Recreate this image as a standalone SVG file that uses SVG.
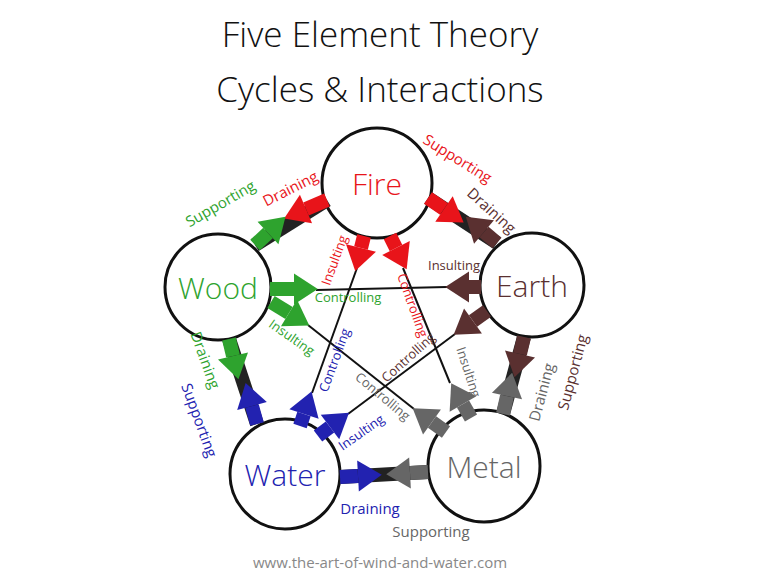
<svg xmlns="http://www.w3.org/2000/svg" width="768" height="576" viewBox="0 0 768 576">
<style>
text{font-family:"Open Sans","Liberation Sans",sans-serif;}
.t{font-size:35px;fill:#111;text-anchor:middle;font-weight:300}
.n{font-size:30px;text-anchor:middle;dominant-baseline:central;font-weight:300}
.l{font-size:15px;text-anchor:middle;dominant-baseline:central}
.s{font-size:13px}
.c{fill:#fff;stroke:#111;stroke-width:3}
.thin{stroke:#111;stroke-width:2;fill:none}
.bk{stroke:#222;stroke-width:14}
</style>
<defs>
<marker id="hr" markerWidth="1.7" markerHeight="2.2" refX="0" refY="1.1" orient="auto" markerUnits="strokeWidth" overflow="visible"><path d="M0,0L1.7,1.1L0,2.2z" fill="#e8141a"/></marker>
<marker id="hg" markerWidth="1.7" markerHeight="2.2" refX="0" refY="1.1" orient="auto" markerUnits="strokeWidth" overflow="visible"><path d="M0,0L1.7,1.1L0,2.2z" fill="#2ea32e"/></marker>
<marker id="hb" markerWidth="1.7" markerHeight="2.2" refX="0" refY="1.1" orient="auto" markerUnits="strokeWidth" overflow="visible"><path d="M0,0L1.7,1.1L0,2.2z" fill="#5a3030"/></marker>
<marker id="hm" markerWidth="1.7" markerHeight="2.2" refX="0" refY="1.1" orient="auto" markerUnits="strokeWidth" overflow="visible"><path d="M0,0L1.7,1.1L0,2.2z" fill="#666"/></marker>
<marker id="hw" markerWidth="1.7" markerHeight="2.2" refX="0" refY="1.1" orient="auto" markerUnits="strokeWidth" overflow="visible"><path d="M0,0L1.7,1.1L0,2.2z" fill="#2222b0"/></marker>
</defs>
<text class="t" x="380" y="47">Five Element Theory</text>
<text class="t" x="380" y="102">Cycles &amp; Interactions</text>
<g id="fire"><circle class="c" cx="377" cy="183" r="55"/><text class="n" x="377" y="183" fill="#e8141a">Fire</text></g>
<g id="wood"><circle class="c" cx="218" cy="287" r="53"/><text class="n" x="218" y="287" fill="#2ea32e">Wood</text></g>
<g id="earth"><circle class="c" cx="532" cy="285" r="52"/><text class="n" x="532" y="285" fill="#5a3030">Earth</text></g>
<g id="water"><circle class="c" cx="285" cy="474" r="55"/><text class="n" x="285" y="474" fill="#2222b0">Water</text></g>
<g id="metal"><circle class="c" cx="484" cy="466" r="56"/><text class="n" x="484" y="466" fill="#666">Metal</text></g>
<g id="connectors" stroke-width="14" fill="none">
<line class="thin" x1="357" y1="268" x2="312" y2="393"/>
<line class="thin" x1="403" y1="268" x2="450" y2="383"/>
<line class="thin" x1="316" y1="290" x2="447" y2="287"/>
<line class="thin" x1="308" y1="325" x2="414" y2="409"/>
<line class="thin" x1="455" y1="334" x2="348" y2="414"/>
<line class="bk" x1="327" y1="200" x2="255" y2="245"/>
<line class="bk" x1="428" y1="198" x2="497" y2="243"/>
<line class="bk" x1="524" y1="337" x2="503" y2="414"/>
<line class="bk" x1="428" y1="472" x2="340" y2="477"/>
<line class="bk" x1="257" y1="424" x2="229" y2="339"/>
<line stroke="#e8141a" marker-end="url(#hr)" x1="327" y1="200" x2="306" y2="209"/>
<line stroke="#2ea32e" marker-end="url(#hg)" x1="255" y1="245" x2="268" y2="233"/>
<line stroke="#e8141a" marker-end="url(#hr)" x1="428" y1="198" x2="444" y2="209"/>
<line stroke="#5a3030" marker-end="url(#hb)" x1="497" y1="243" x2="484" y2="232"/>
<line stroke="#5a3030" marker-end="url(#hb)" x1="524" y1="337" x2="520" y2="354"/>
<line stroke="#666" marker-end="url(#hm)" x1="503" y1="414" x2="507" y2="396"/>
<line stroke="#666" marker-end="url(#hm)" x1="428" y1="472" x2="410" y2="473"/>
<line stroke="#2222b0" marker-end="url(#hw)" x1="340" y1="477" x2="358" y2="476"/>
<line stroke="#2222b0" marker-end="url(#hw)" x1="257" y1="424" x2="252" y2="406"/>
<line stroke="#2ea32e" marker-end="url(#hg)" x1="229" y1="339" x2="233" y2="356"/>
<line stroke="#e8141a" marker-end="url(#hr)" x1="364" y1="236" x2="361" y2="248"/>
<line stroke="#e8141a" marker-end="url(#hr)" x1="390" y1="236" x2="396" y2="248"/>
<line stroke="#2ea32e" marker-end="url(#hg)" x1="270" y1="289" x2="294" y2="289"/>
<line stroke="#2ea32e" marker-end="url(#hg)" x1="271" y1="302" x2="289" y2="313"/>
<line stroke="#5a3030" marker-end="url(#hb)" x1="481" y1="287" x2="469" y2="287"/>
<line stroke="#5a3030" marker-end="url(#hb)" x1="487" y1="311" x2="473" y2="321"/>
<line stroke="#666" marker-end="url(#hm)" x1="446" y1="432" x2="432" y2="422"/>
<line stroke="#666" marker-end="url(#hm)" x1="471" y1="418" x2="463" y2="404"/>
<line stroke="#2222b0" marker-end="url(#hw)" x1="300" y1="426" x2="304" y2="414"/>
<line stroke="#2222b0" marker-end="url(#hw)" x1="318" y1="436" x2="330" y2="427"/>
</g>
<g id="labels">
<text class="l" fill="#2ea32e" transform="translate(220,203) rotate(-30)">Supporting</text>
<text class="l" fill="#e8141a" transform="translate(290,188) rotate(-27)">Draining</text>
<text class="l" fill="#e8141a" transform="translate(458,158) rotate(32)">Supporting</text>
<text class="l" fill="#5a3030" transform="translate(492,210) rotate(42)">Draining</text>
<text class="l s" fill="#5a3030" x="454" y="265">Insulting</text>
<text class="l s" fill="#2ea32e" x="348" y="297">Controlling</text>
<text class="l s" fill="#e8141a" transform="translate(334,260) rotate(-70)">Insulting</text>
<text class="l s" fill="#e8141a" transform="translate(413,305) rotate(70)">Controlling</text>
<text class="l s" fill="#2ea32e" transform="translate(292,337) rotate(35)">Insulting</text>
<text class="l s" fill="#2222b0" transform="translate(334,360) rotate(-70)">Controlling</text>
<text class="l s" fill="#5a3030" transform="translate(408,357) rotate(-42)">Controlling</text>
<text class="l s" fill="#666" transform="translate(469,372) rotate(72)">Insulting</text>
<text class="l s" fill="#666" transform="translate(383,396) rotate(40)">Controlling</text>
<text class="l s" fill="#2222b0" transform="translate(361,432) rotate(-35)">Insulting</text>
<text class="l" fill="#666" transform="translate(541,392) rotate(-75)">Draining</text>
<text class="l" fill="#5a3030" transform="translate(572,372) rotate(-75)">Supporting</text>
<text class="l" fill="#2ea32e" transform="translate(206,360) rotate(70)">Draining</text>
<text class="l" fill="#2222b0" transform="translate(200,420) rotate(70)">Supporting</text>
<text class="l" fill="#2222b0" x="370" y="508">Draining</text>
<text class="l" fill="#666" x="431" y="531">Supporting</text>
</g>
<text x="380" y="568" text-anchor="middle" style="font-size:15px" fill="#888">www.the-art-of-wind-and-water.com</text>
</svg>
